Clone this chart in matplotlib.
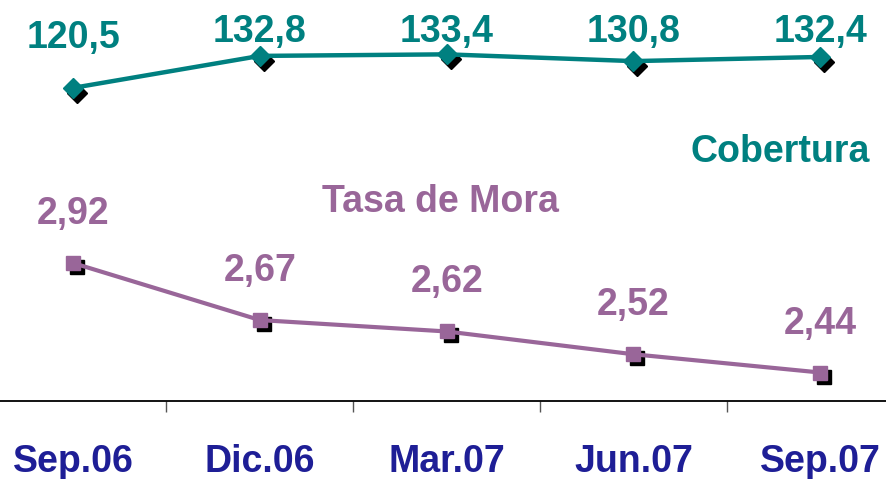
import numpy as np
import matplotlib
matplotlib.use('Agg')
import matplotlib.pyplot as plt
from matplotlib import transforms

periodos = ['Sep.06', 'Dic.06', 'Mar.07', 'Jun.07', 'Sep.07']
cobertura = [120.5, 132.8, 133.4, 130.8, 132.4]
tasa_mora = [2.92, 2.67, 2.62, 2.52, 2.44]

color_cob = '#008080'
color_mora = '#996699'
color_cat = '#1E1E96'

plt.rcParams['font.family'] = ['Liberation Sans', 'DejaVu Sans']
plt.rcParams['font.weight'] = 'bold'

fig = plt.figure(figsize=(8.86, 4.79), dpi=100)
ax = fig.add_axes([0, 0, 1, 1])
ax2 = ax.twinx()
ax2.set_position([0, 0, 1, 1])

x = np.arange(len(periodos))

# escala de cada serie en su propio eje
ax.set_xlim(-0.391, 4.352)
ax.set_ylim(-29.9, 154.3)
ax2.set_ylim(1.973, 4.0735)

for a in (ax, ax2):
    for s in ['top', 'left', 'right']:
        a.spines[s].set_visible(False)
    a.set_yticks([])
ax2.spines['bottom'].set_visible(False)
ax2.patch.set_visible(False)

ax.spines['bottom'].set_position(('axes', 78 / 479))
ax.spines['bottom'].set_linewidth(1.3)
ax.set_xticks(x[:-1] + 0.5)
ax.set_xticklabels([])
ax.tick_params(axis='x', direction='out', length=8, width=1, color='#555555')

# sombras de los marcadores
sombra = transforms.offset_copy(ax.transData, fig, x=4, y=-5, units='dots')
sombra2 = transforms.offset_copy(ax2.transData, fig, x=4, y=-4, units='dots')
ax.plot(x, cobertura, linestyle='none', marker='D', ms=10, color='black',
        transform=sombra, zorder=2)
ax.plot(x, cobertura, linestyle='-', lw=3.2, marker='D', ms=10, color=color_cob, zorder=3)
ax2.plot(x, tasa_mora, linestyle='none', marker='s', ms=10, color='black',
         transform=sombra2, zorder=2)
ax2.plot(x, tasa_mora, linestyle='-', lw=3, marker='s', ms=10, color=color_mora, zorder=3)

fig.canvas.draw()
H = 479

# etiquetas de valores (en pixeles, linea base 40 px sobre el punto, tope en y=42)
for xi, v in zip(x, cobertura):
    px, py = ax.transData.transform((xi, v))
    base = min(py + 40, H - 42)
    fig.text(px / 886, base / H, f'{v:.1f}'.replace('.', ','), color=color_cob,
             fontsize=27, fontweight='bold', ha='center', va='baseline')

for xi, v in zip(x, tasa_mora):
    px, py = ax2.transData.transform((xi, v))
    fig.text(px / 886, (py + 39) / H, f'{v:.2f}'.replace('.', ','), color=color_mora,
             fontsize=27, fontweight='bold', ha='center', va='baseline')

# categorias
for xi, p in zip(x, periodos):
    px, _ = ax.transData.transform((xi, 0))
    fig.text(px / 886, (H - 472) / H, p, color=color_cat, fontsize=27,
             fontweight='bold', ha='center', va='baseline')

fig.text(870 / 886, (H - 152) / H, 'Cobertura', color=color_cob, fontsize=27,
         fontweight='bold', ha='right', va='center')
fig.text(440 / 886, (H - 202) / H, 'Tasa de Mora', color=color_mora, fontsize=27,
         fontweight='bold', ha='center', va='center')

fig.savefig('out.png', dpi=100)
